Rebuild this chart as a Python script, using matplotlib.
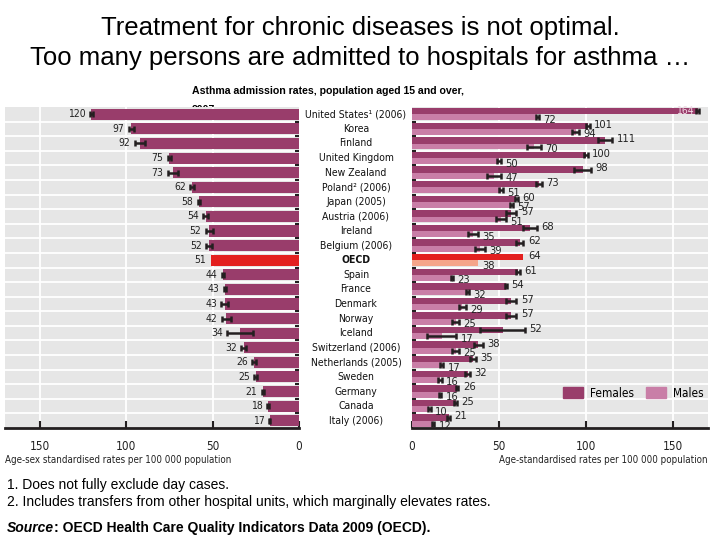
import matplotlib.pyplot as plt
from matplotlib.patches import Patch
from matplotlib import font_manager

# Datos
paises = ["United States¹ (2006)", "Korea", "Finland", "United Kingdom", "New Zealand",
          "Poland² (2006)", "Japan (2005)", "Austria (2006)", "Ireland", "Belgium (2006)",
          "OECD", "Spain", "France", "Denmark", "Norway", "Iceland", "Switzerland (2006)",
          "Netherlands (2005)", "Sweden", "Germany", "Canada", "Italy (2006)"]
total = [120, 97, 92, 75, 73, 62, 58, 54, 52, 52, 51, 44, 43, 43, 42, 34, 32, 26, 25, 21, 18, 17]
total_err = [1, 1.5, 3, 1, 3, 1, 0.5, 1.5, 2, 1.5, 0, 0.7, 0.5, 2, 2.5, 7.5, 1.5, 1, 1, 0.5, 0.7, 0.5]
mujeres = [164, 101, 111, 100, 98, 73, 60, 57, 68, 62, 64, 61, 54, 57, 57, 52, 38, 35, 32, 26, 25, 21]
mujeres_err = [1, 1, 4, 1, 5, 1.5, 0.7, 3, 4, 2, 0, 1, 0.7, 3, 3, 13, 2.5, 1.5, 1.5, 0.7, 0.7, 0.7]
hombres = [72, 94, 70, 50, 47, 51, 57, 51, 35, 39, 38, 23, 32, 29, 25, 17, 25, 17, 16, 16, 10, 12]
hombres_err = [1, 2, 4, 1, 4, 1, 1, 3, 3, 3, 0, 0.7, 0.7, 2, 2, 8.5, 2, 1, 1, 0.7, 0.7, 0.7]
ticks = [0, 50, 100, 150]

MORADO = "#993d6b"
ROSA = "#c97ea7"
ROJO = "#e3201f"
SALMON = "#f5a58a"
FONDO = "#e6e6e6"
ANGOSTA = font_manager.FontProperties(family="DejaVu Sans", stretch="condensed")

def fp(size, weight="normal"):
    f = ANGOSTA.copy()
    f.set_size(size)
    f.set_weight(weight)
    return f

fig = plt.figure(figsize=(7.2, 5.4), dpi=100)

fig.text(0.5, 0.948, "Treatment for chronic diseases is not optimal.", ha="center", va="center",
         fontsize=18.5, family="Liberation Sans")
fig.text(0.5, 0.893, "Too many persons are admitted to hospitals for asthma …", ha="center", va="center",
         fontsize=18.5, family="Liberation Sans")
# subtitulo: la segunda linea queda casi tapada por la grafica, como en el original
fig.text(192 / 720, 1 - 91 / 540, "Asthma admission rates, population aged 15 and over,", ha="left",
         va="center", fontsize=7.6, fontweight="bold", family="Liberation Sans")
fig.text(192 / 720, 1 - 110 / 540, "2007", ha="left", va="center", fontsize=7.6, fontweight="bold",
         family="Liberation Sans", zorder=-1)

n = len(paises)
filas = list(range(n))
bordes = [i + 0.5 for i in range(-1, n)]

ax1 = fig.add_axes([5 / 720, 1 - 428 / 540, 294 / 720, 321 / 540])
ax2 = fig.add_axes([412 / 720, 1 - 428 / 540, 296 / 720, 321 / 540])

for ax in (ax1, ax2):
    ax.set_facecolor(FONDO)
    ax.set_ylim(n - 0.5, -0.5)
    ax.set_xlim(0, 170)
    for b in bordes[1:-1]:
        ax.axhline(b, color="white", lw=1.3, zorder=1)
    for t in ticks[1:]:
        ax.axvline(t, color="white", lw=1.3, zorder=1)
    for s in ["top", "left", "right"]:
        ax.spines[s].set_visible(False)
    ax.spines["bottom"].set_linewidth(2)
    ax.spines["bottom"].set_color("#231f20")
    ax.set_xticks(ticks)
    ax.tick_params(axis="x", direction="in", length=5, width=1.5, color="#231f20",
                   pad=9, labelcolor="#222222")
    for lab in ax.get_xticklabels():
        lab.set_fontproperties(fp(8.5))
    ax.set_yticks(bordes[1:-1])
    ax.set_yticklabels([])

ax1.invert_xaxis()
ax1.tick_params(axis="y", left=False, right=True, direction="in", length=3, width=1.5, color="#231f20")
ax2.tick_params(axis="y", left=True, right=False, direction="in", length=3, width=1.5, color="#231f20")

# Panel izquierdo: tasas totales
colores1 = [ROJO if p == "OECD" else MORADO for p in paises]
ax1.barh(filas, total, height=0.76, color=colores1, zorder=2)
for i in filas:
    if total_err[i] > 0:
        ax1.errorbar(total[i], i, xerr=total_err[i], fmt="none", ecolor="#231f20",
                     elinewidth=1.8, capsize=2.4, capthick=1.8, zorder=3)
    ax1.text(total[i] + total_err[i] + 2.5, i, str(total[i]), ha="right", va="center",
             fontproperties=fp(7.5), color="#222222")

# Panel derecho: mujeres y hombres
yf = [i - 0.21 for i in filas]
ym = [i + 0.21 for i in filas]
colf = [ROJO if p == "OECD" else MORADO for p in paises]
colm = [SALMON if p == "OECD" else ROSA for p in paises]
ax2.barh(yf, mujeres, height=0.44, color=colf, zorder=2)
ax2.barh(ym, hombres, height=0.4, color=colm, zorder=2)
for i in filas:
    if mujeres_err[i] > 0:
        ax2.errorbar(mujeres[i], yf[i], xerr=mujeres_err[i], fmt="none", ecolor="#231f20",
                     elinewidth=1.8, capsize=2.4, capthick=1.8, zorder=3)
    if hombres_err[i] > 0:
        ax2.errorbar(hombres[i], ym[i], xerr=hombres_err[i], fmt="none", ecolor="#231f20",
                     elinewidth=1.8, capsize=2.4, capthick=1.8, zorder=3)
    if mujeres[i] > 150:
        ax2.text(mujeres[i] - mujeres_err[i] - 1.5, yf[i], str(mujeres[i]), ha="right", va="center",
                 fontproperties=fp(7.5), color="#f0d8e4", zorder=4)
    else:
        ax2.text(mujeres[i] + mujeres_err[i] + 2.5, yf[i] - 0.08, str(mujeres[i]), ha="left",
                 va="center", fontproperties=fp(8), color="#222222", zorder=4)
    ax2.text(hombres[i] + hombres_err[i] + 2.5, ym[i] + 0.17, str(hombres[i]), ha="left",
             va="center", fontproperties=fp(8), color="#222222", zorder=4)

# Nombres de paises entre ambos paneles
for i, p in enumerate(paises):
    y = 1 - (107 + (i + 0.5) * 321 / n) / 540
    fig.text(356 / 720, y, p, ha="center", va="center", color="#111111",
             fontproperties=fp(7.5, "bold" if p == "OECD" else "normal"))

ax2.legend(handles=[Patch(color=MORADO, label="Females"), Patch(color=ROSA, label="Males")],
           ncol=2, loc="lower right", bbox_to_anchor=(1.02, 0.055), frameon=False,
           handlelength=1.7, handleheight=1.1, columnspacing=1.0, handletextpad=0.6,
           prop=fp(8.5))

fig.text(5 / 720, 1 - 460 / 540, "Age-sex standardised rates per 100 000 population", ha="left",
         va="center", fontproperties=fp(7), color="#222222")
fig.text(708 / 720, 1 - 460 / 540, "Age-standardised rates per 100 000 population", ha="right",
         va="center", fontproperties=fp(7), color="#222222")

fig.text(7 / 720, 1 - 485 / 540, "1. Does not fully exclude day cases.", ha="left", va="center",
         fontsize=10, family="Liberation Sans")
fig.text(7 / 720, 1 - 502 / 540,
         "2. Includes transfers from other hospital units, which marginally elevates rates.",
         ha="left", va="center", fontsize=10, family="Liberation Sans")
fuente = fig.text(7 / 720, 1 - 528 / 540, "Source", ha="left", va="center", fontsize=10,
                  fontweight="bold", fontstyle="italic", family="Liberation Sans")
resto = fig.text(0, 1 - 528 / 540, ": OECD Health Care Quality Indicators Data 2009 (OECD).",
                 ha="left", va="center", fontsize=10, fontweight="bold", family="Liberation Sans")
fig.canvas.draw()
bb = fuente.get_window_extent().transformed(fig.transFigure.inverted())
resto.set_x(bb.x1)

plt.savefig("out.png", dpi=100)
